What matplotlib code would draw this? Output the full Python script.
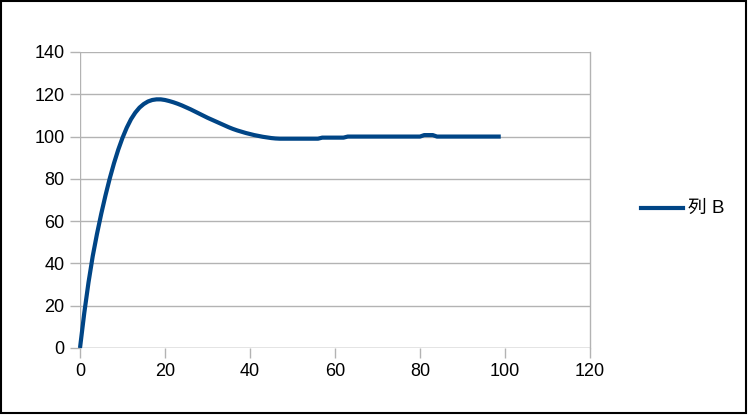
import matplotlib
matplotlib.use("Agg")
import matplotlib.pyplot as plt
from matplotlib.lines import Line2D
from matplotlib.patches import Rectangle

plt.rcParams["font.family"] = ["Liberation Sans", "Noto Sans CJK JP"]

# ── data ─────────────────────────────────────
x_vals = list(range(0, 100))
y_vals = [
    0, 16.5, 31, 43.5, 54, 63.5, 72.2, 80.2, 87.4, 93.8,
    99.4, 104.2, 108.2, 111.3, 113.7, 115.4, 116.6, 117.3, 117.6, 117.6,
    117.3, 116.8, 116.2, 115.5, 114.7, 113.8, 112.9, 111.9, 110.9, 109.9,
    108.9, 108.0, 107.1, 106.2, 105.3, 104.4, 103.6, 102.9, 102.3, 101.7,
    101.2, 100.7, 100.3, 99.9, 99.6, 99.3, 99.1, 99, 99, 99,
    99, 99, 99, 99, 99, 99, 99, 99.5, 99.5, 99.5,
    99.5, 99.5, 99.5, 100, 100, 100, 100, 100, 100, 100,
    100, 100, 100, 100, 100, 100, 100, 100, 100, 100,
    100, 100.7, 100.7, 100.7, 100, 100, 100, 100, 100, 100,
    100, 100, 100, 100, 100, 100, 100, 100, 100, 100,
]
serie_nome = "列 B"
x_ticks = [0, 20, 40, 60, 80, 100, 120]
y_ticks = [0, 20, 40, 60, 80, 100, 120, 140]

AZUL = "#004586"
CINZA = "#b3b3b3"

fig = plt.figure(figsize=(7.48, 4.16), dpi=100)
ax = fig.add_axes([80 / 748, 1 - 348 / 416, 510 / 748, 296 / 416])

ax.plot(x_vals, y_vals, color=AZUL, linewidth=3, solid_capstyle="butt",
        solid_joinstyle="round", clip_on=False)

ax.set_xlim(0, 120)
ax.set_ylim(0, 140)
ax.set_xticks(x_ticks)
ax.set_yticks(y_ticks)
ax.tick_params(axis="both", labelsize=13, color=CINZA, length=7, width=1,
               direction="out", pad=4)
ax.yaxis.grid(True, color=CINZA, linewidth=1)
ax.set_axisbelow(True)

for lado in ["top", "bottom", "left"]:
    ax.spines[lado].set_visible(False)
ax.spines["right"].set_color(CINZA)
ax.spines["right"].set_linewidth(1)
ax.axvline(0, color=CINZA, linewidth=1, zorder=0)
ax.axhline(0, color=CINZA, linewidth=1, zorder=0)

# --- legenda ---
fig.add_artist(Line2D([641 / 748, 683 / 748], [1 - 208 / 416] * 2,
                      color=AZUL, linewidth=3, transform=fig.transFigure))
fig.text(688 / 748, 1 - 208 / 416, serie_nome, fontsize=13.5,
         va="center", ha="left")

# --- moldura preta ---
fig.add_artist(Rectangle((1 / 748, 1 - 413 / 416), 745 / 748, 412 / 416,
                         fill=False, edgecolor="black", linewidth=1.5,
                         transform=fig.transFigure))

fig.savefig("out.png", dpi=100)
